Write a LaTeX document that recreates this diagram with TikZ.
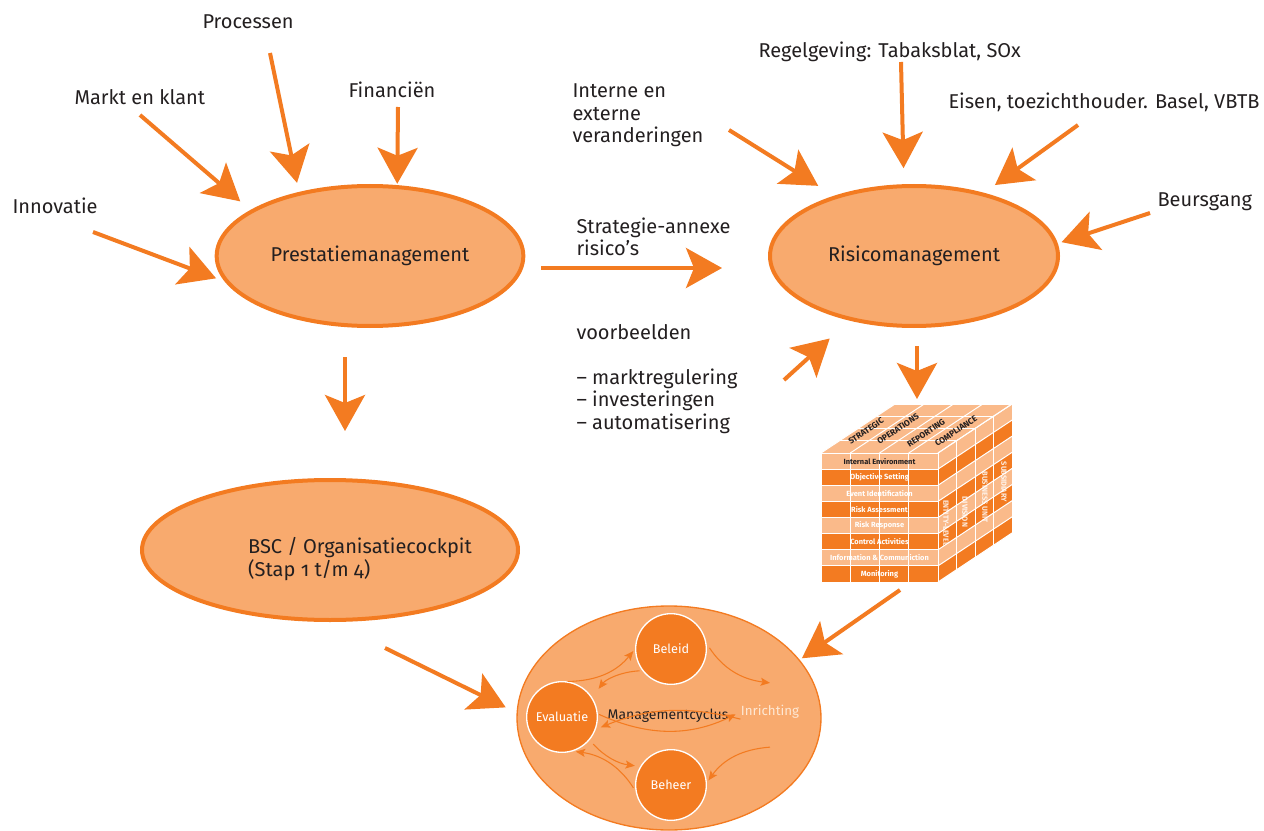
\documentclass[tikz,border=0pt]{standalone}
\usepackage{fontspec}
\setmainfont[Numbers=OldStyle]{Fira Sans}
\usetikzlibrary{shapes.geometric,arrows.meta,calc}

\definecolor{orng}{RGB}{243,123,33}
\definecolor{lightorng}{RGB}{248,170,110}
\definecolor{cubelight}{RGB}{250,186,138}
\definecolor{txtgray}{RGB}{35,31,32}
\definecolor{paleorng}{RGB}{254,232,212}

\tikzset{every picture/.style={line width=0.75pt}}
\tikzset{
	bigarrow/.style={draw=orng, line width=3pt, -{Stealth[length=27pt,width=30pt,inset=6pt]}},
	cyclearrow/.style={draw=orng, line width=0.8pt, -{Stealth[length=7pt,width=6pt,inset=1.5pt]}},
	bigellipse/.style={ellipse, draw=orng, line width=3pt, fill=lightorng, text=txtgray, inner sep=0pt, font=\fontsize{15}{17}\selectfont},
	cyclenode/.style={circle, draw=white, line width=1pt, fill=orng, minimum size=53pt, inner sep=0pt, text=white, font=\fontsize{9.5}{11}\selectfont},
	lbl/.style={text=txtgray, inner sep=0pt, align=left, anchor=west, font=\fontsize{15}{16.9}\selectfont},
	rowlbl/.style={text=white, inner sep=0pt, font=\fontsize{5.6}{6}\bfseries\selectfont},
	toplbl/.style={text=txtgray, inner sep=0pt, rotate=33.5, font=\fontsize{6.3}{7}\bfseries\selectfont},
	sidelbl/.style={text=white, text opacity=0.85, inner sep=0pt, rotate=-90, font=\fontsize{5.6}{6}\bfseries\selectfont}
}

\begin{document}
\begin{tikzpicture}[x=0.75pt,y=0.75pt,yscale=-1,xscale=1]
	\useasboundingbox (0,0) rectangle (1264,831);

	%Shape: Ellipse [prestatie]
	\node[bigellipse, minimum width=230pt, minimum height=105pt] (prest) at (370,256) {Prestatiemanagement};
	%Shape: Ellipse [risico]
	\node[bigellipse, minimum width=216pt, minimum height=105pt] (risico) at (914,256) {Risicomanagement};
	%Shape: Ellipse [bsc]
	\node[bigellipse, minimum width=282pt, minimum height=105pt] (bsc) at (330,550) {};
	% Text Node
	\node[lbl, anchor=center] (bsctext) at (360,559) {BSC / Organisatiecockpit\\(Stap 1 t/m 4)};

	%Shape: Ellipse [managementcyclus]
	\node[ellipse, draw=orng, line width=1pt, fill=lightorng, minimum width=228pt, minimum height=168pt] (cycle) at (669,718) {};
	\node[cyclenode] (beleid) at (671,649) {Beleid};
	\node[cyclenode] (evaluatie) at (562,717) {Evaluatie};
	\node[cyclenode] (beheer) at (671,785) {Beheer};
	% Text Node
	\node[text=paleorng, inner sep=0pt, font=\fontsize{10}{12}\selectfont] (inrichting) at (770,712) {Inrichting};
	% Text Node
	\node[text=txtgray, inner sep=0pt, font=\fontsize{10.5}{12}\selectfont] (cyclus) at (668,716) {Managementcyclus};

	%Curve Lines [cycle]
	\draw[cyclearrow, shorten >=2pt] (evaluatie.81) to[bend left=25] (beleid.180);
	\draw[cyclearrow, shorten <=2pt, shorten >=8pt] (beleid.217) to[bend left=25] (evaluatie.33);
	\draw[cyclearrow, shorten <=4pt] (beleid.9) to[bend left=25] ($(inrichting.north)+(0,-22)$);
	\draw[cyclearrow, shorten <=1pt, shorten >=4pt] (evaluatie.5) to[bend left=25] (inrichting.west);
	\draw[cyclearrow, shorten >=4pt] (inrichting.south west) to[bend left=18] (evaluatie.-20);
	\draw[cyclearrow, shorten >=2pt] ($(inrichting.south)+(0,28)$) to[bend left=25] (beheer.4);
	\draw[cyclearrow, shorten <=4pt, shorten >=4pt] (evaluatie.-40) to[bend left=20] (beheer.149);
	\draw[cyclearrow, shorten <=3pt, shorten >=2pt] (beheer.190) to[bend left=25] (evaluatie.-72);

	%Shape: Cube [coso]
	\fill[cubelight] (821,453) -- (895,404) -- (1012,404) -- (938,453) -- cycle;
	\foreach \i/\c in {0/cubelight,1/orng,2/cubelight,3/orng,4/cubelight,5/orng,6/cubelight,7/orng}{
		\fill[\c] (821,453+16.125*\i) rectangle (938,469.125+16.125*\i);
		\fill[\c] (938,453+16.125*\i) -- (1012,404+16.125*\i) -- (1012,420.125+16.125*\i) -- (938,469.125+16.125*\i) -- cycle;
	}
	\foreach \k in {0,...,4}{
		\draw[white] (821+29.25*\k,453) -- (821+29.25*\k,582);
		\draw[white] (821+29.25*\k,453) -- (895+29.25*\k,404);
		\draw[white] (821+18.5*\k,453-12.25*\k) -- (938+18.5*\k,453-12.25*\k);
		\draw[white] (938+18.5*\k,453-12.25*\k) -- (938+18.5*\k,582-12.25*\k);
	}
	\foreach \k in {0,...,8}{
		\draw[white] (821,453+16.125*\k) -- (938,453+16.125*\k);
		\draw[white] (938,453+16.125*\k) -- (1012,404+16.125*\k);
	}
	% Text Node
	\node[rowlbl, text=txtgray] (rowie) at (879.5,461.1) {Internal Environment};
	\node[rowlbl] (rowos) at (879.5,477.2) {Objective Setting};
	\node[rowlbl] (rowei) at (879.5,493.3) {Event Identification};
	\node[rowlbl] (rowra) at (879.5,509.4) {Risk Assessment};
	\node[rowlbl] (rowrr) at (879.5,525.6) {Risk Response};
	\node[rowlbl] (rowca) at (879.5,541.7) {Control Activities};
	\node[rowlbl] (rowic) at (879.5,557.8) {Information \& Communiction};
	\node[rowlbl] (rowmo) at (879.5,573.9) {Monitoring};
	% Text Node
	\node[toplbl] (topstr) at (866,431) {STRATEGIC};
	\node[toplbl] (topops) at (898,429) {OPERATIONS};
	\node[toplbl] (toprep) at (926,433) {REPORTING};
	\node[toplbl] (topcom) at (956,431) {COMPLIANCE};
	% Text Node
	\node[sidelbl] (sideent) at (946,523) {ENTITY-LEVEL};
	\node[sidelbl] (sidediv) at (965,512) {DIVISION};
	\node[sidelbl] (sidebus) at (985,497) {BUSINESS UNIT};
	\node[sidelbl] (sidesub) at (1004,482) {SUBSIDIARY};

	% Text Node
	\node[lbl] (proc) at (202,22) {Processen};
	\node[lbl] (markt) at (74,97) {Markt en klant};
	\node[lbl] (fin) at (348,90) {Financiën};
	\node[lbl] (inno) at (12,206) {Innovatie};
	\node[lbl] (interne) at (572,115.5) {Interne en\\externe\\veranderingen};
	\node[lbl] (regel) at (758,52) {Regelgeving: Tabaksblat, SOx};
	\node[lbl] (eisen) at (948,102) {Eisen, toezichthouder. Basel, VBTB};
	\node[lbl] (beurs) at (1157,202) {Beursgang};
	\node[lbl] (strat) at (576,237) {Strategie-annexe\\risico’s};
	\node[lbl] (voorb) at (576,379) {voorbeelden\\[16.9pt]– marktregulering\\– investeringen\\– automatisering};

	%Straight Lines [free ends]
	\coordinate (procstart) at (270,53);
	\coordinate (marktstart) at (140,115);
	\coordinate (finstart) at (398,107);
	\coordinate (innostart) at (93,232);
	\coordinate (prestdown) at (345,357);
	\coordinate (bsctop) at (345,431);
	\coordinate (stratstart) at (541,268);
	\coordinate (stratend) at (722,268);
	\coordinate (internestart) at (729,130);
	\coordinate (regelstart) at (901,62);
	\coordinate (eisenstart) at (1078,125);
	\coordinate (beursstart) at (1150,213);
	\coordinate (voorbstart) at (784,380);
	\coordinate (risicodown) at (917,346);
	\coordinate (cubetop) at (917,399);
	\coordinate (cubestart) at (900,590);
	\coordinate (bscstart) at (385,648);

	%Straight Lines [arrows]
	\draw[bigarrow, shorten >=7pt] (procstart) -- (prest.138);
	\draw[bigarrow, shorten >=10pt] (marktstart) -- (prest.159);
	\draw[bigarrow, shorten >=1pt] (finstart) -- (prest.69);
	\draw[bigarrow, shorten >=7pt] (innostart) -- (prest.190);
	\draw[bigarrow] (prestdown) -- (bsctop);
	\draw[bigarrow] (stratstart) -- (stratend);
	\draw[bigarrow, shorten >=14pt] (internestart) -- (risico.143.5);
	\draw[bigarrow, shorten >=12pt] (regelstart) -- (risico.98.4);
	\draw[bigarrow, shorten >=10pt] (eisenstart) -- (risico.42.7);
	\draw[bigarrow, shorten >=3pt] (beursstart) -- (risico.5.4);
	\draw[bigarrow, shorten >=20pt] (voorbstart) -- (risico.225);
	\draw[bigarrow] (risicodown) -- (cubetop);
	\draw[bigarrow, shorten >=2pt] (cubestart) -- (cycle.24);
	\draw[bigarrow, shorten >=9pt] (bscstart) -- (cycle.178);

\end{tikzpicture}
\end{document}
